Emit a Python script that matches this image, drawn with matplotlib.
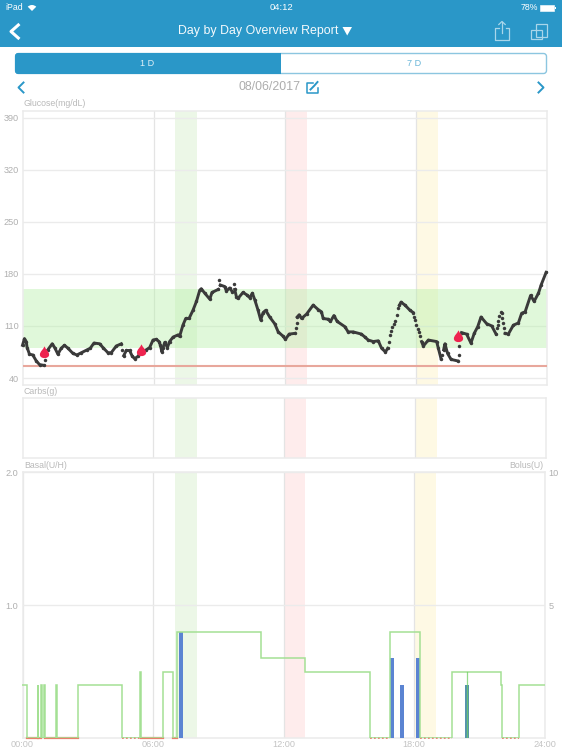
"""Day by Day Overview Report: glucose, carbs, basal and bolus for one day."""
import matplotlib

matplotlib.use("Agg")
import matplotlib.pyplot as plt
import numpy as np
from matplotlib.patches import FancyBboxPatch, Rectangle, Wedge
from matplotlib.path import Path

plt.rcParams["font.family"] = ["Liberation Sans", "DejaVu Sans"]

W, H = 562, 750
BLUE = "#2a97c8"
GRID = "#ebebeb"
TEXT = "#b9b9b9"

hour_ticks = [0, 6, 12, 18, 24]
hour_labels = ["00:00", "06:00", "12:00", "18:00", "24:00"]
glucose_ticks = [40, 110, 180, 250, 320, 390]
basal_ticks = [1.0, 2.0]
bolus_tick_labels = ["5", "10"]

# meal windows: start hour, end hour
band_hours = [(7, 8), (12, 13), (18, 19)]
band_colors = ["#ecf7e7", "#feecec", "#fef9e4"]
target_low, target_high = 80, 160
low_limit = 56

# NaN = sensor readings no longer joined, the single dots stay visible
nan = float("nan")
glucose_hours = [
    0.0, 0.09, 0.17, 0.21, 0.32, 0.47, 0.63, 0.78, 0.98, nan, 1.02, nan, 1.04, nan, 1.16, 1.36, 1.47, 1.62, 1.77,
    1.92, 2.08, 2.31, 2.49, 2.69, 2.95, 3.10, 3.27, 3.53, 3.68, 3.91, 4.06, 4.29, 4.52, nan, 4.57, nan, 4.63, 4.75,
    4.90, 5.01, 5.13, 5.28, 5.41, 5.67, 5.82, 5.97, 6.12, 6.25, 6.31, 6.38, 6.43, 6.51, 6.63, 6.73,
    6.89, 7.12, 7.19, 7.34, 7.47, 7.62, 7.80, 7.96, 8.11, 8.18, 8.34, 8.57, 8.67, 8.95, nan, 8.99, nan, 9.05, 9.25,
    9.33, 9.48, 9.60, nan, 9.67, nan, 9.71, 9.79, 9.86, 10.09, 10.25, 10.40, 10.52, 10.63, 10.78, 10.90, 11.01,
    11.13, 11.31, 11.54, 11.70, 11.93, 12.03, 12.20, 12.46, nan, 12.51, nan, 12.54, nan, 12.57, 12.66, 12.77, 13.00,
    13.30, 13.53, 13.68, 13.76, 13.99, 14.09, 14.25, 14.40, 14.75, 14.90, 15.13, 15.51, 15.67, 15.82, 16.05, 16.28,
    16.43, 16.61, 16.71, nan, 16.77, nan, 16.81, nan, 16.85, nan, 16.92, nan, 16.98, nan, 17.04, nan, 17.12, nan,
    17.19, nan, 17.25, 17.32, 17.50, 17.73, 17.88, nan, 17.93, nan, 17.96, nan, 17.99, nan, 18.08, nan, 18.14, nan,
    18.20, nan, 18.26, 18.34, 18.57, 18.95, 19.03, 19.15, nan, 19.21, nan, 19.27, 19.33, 19.45, 19.61, 19.91, nan,
    19.97, nan, 19.99, nan, 20.09, 20.32, 20.52, 20.67, 20.83, 20.98, 21.24, 21.47, 21.67, nan, 21.71, nan, 21.74,
    nan, 21.77, nan, 21.82, nan, 21.88, nan, 21.93, nan, 21.96, nan, 22.00, nan, 22.05, nan, 22.08, 22.23, 22.46,
    22.69, 22.84, 23.00, 23.25, 23.41, 23.61, 23.73, 23.96,
]
glucose_values = [
    84, 93, 89, 81, 72, 71, 63, 58, 57, nan, 64, nan, 71, nan, 78, 86, 81, 72, 80,
    84, 80, 73, 71, 74, 78, 80, 87, 86, 81, 74, 74, 83, 86, nan, 78, nan, 70, 77,
    77, 70, 66, 69, 75, 78, 81, 91, 92, 89, 84, 75, 81, 88, 81, 89,
    95, 98, 96, 111, 120, 120, 131, 143, 158, 160, 154, 146, 155, 159, nan, 172, nan, 165, 163,
    157, 161, 156, nan, 167, nan, 159, 149, 147, 155, 152, 148, 154, 145, 131, 118, 128,
    131, 122, 113, 102, 96, 92, 99, 100, nan, 107, nan, 114, nan, 122, 125, 120, 126,
    138, 132, 129, 120, 119, 116, 124, 116, 109, 102, 102, 99, 95, 91, 89, 90,
    80, 75, 80, nan, 88, nan, 98, nan, 103, nan, 109, nan, 113, nan, 116, nan, 125, nan,
    134, nan, 138, 142, 138, 131, 128, nan, 122, nan, 118, nan, 111, nan, 106, nan, 102, nan,
    96, nan, 89, 83, 91, 89, 80, 66, nan, 71, nan, 78, 86, 73, 65, 63, nan,
    71, nan, 83, nan, 101, 99, 87, 100, 109, 122, 113, 110, 99, nan, 107, nan, 111,
    nan, 116, nan, 123, nan, 129, nan, 128, nan, 120, nan, 114, nan, 107, nan, 100, 99, 111,
    114, 127, 129, 151, 143, 154, 165, 182,
]
meal_hours = [0.98, 5.41, 19.91]
meal_values = [75, 77, 97]

# basal rate per interval, edges has one more entry than rates
basal_edges = [
    0, 0.22, 0.70, 0.72, 0.87, 0.88, 0.97, 1.03, 1.56, 1.57, 2.57, 4.59, 5.42, 5.44,
    6.47, 6.90, 7.09, 10.98, 13.0, 15.99, 16.87, 18.29, 19.72, 21.98, 22.06, 22.80, 24,
]
basal_rates = [
    0.4, 0, 0.4, 0, 0.4, 0, 0.4, 0, 0.4, 0, 0.4, 0, 0.5,
    0, 0.5, 0, 0.8, 0.6, 0.5, 0, 0.8, 0, 0.5, 0.4, 0, 0.4,
]
suspend_solid = [(0.22, 0.70), (0.72, 0.87), (1.03, 2.57), (5.44, 6.47), (6.90, 7.09)]
suspend_dotted = [(4.59, 5.42), (15.99, 16.87), (18.29, 19.72), (22.06, 22.80)]

bolus_hours = [7.29, 16.99, 17.45, 18.18, 20.42]
bolus_units = [4, 3, 2, 3, 2]
bolus_colors = ["#5b84d2", "#5b84d2", "#5b84d2", "#5b84d2", "#5593ad"]
bolus_spike_hour = 20.42
bolus_spike_rate = 0.5

fig = plt.figure(figsize=(W / 100, H / 100), dpi=100, facecolor="white")


def px_axes(left, top, right, bottom, **kwargs):
    return fig.add_axes([left / W, 1 - bottom / H, (right - left) / W, (bottom - top) / H], **kwargs)


def style_panel(ax):
    ax.set_xlim(0, 24)
    ax.set_xticks([6, 12, 18])
    ax.set_xticklabels([])
    ax.tick_params(length=0)
    ax.grid(axis="x", color="#e4e4e4", linewidth=0.9, zorder=1)
    ax.set_axisbelow(True)
    for spine in ax.spines.values():
        spine.set_color(GRID)
        spine.set_linewidth(1.1)
    for (start, end), color in zip(band_hours, band_colors):
        ax.axvspan(start, end, color=color, linewidth=0, zorder=0)


# 血糖
ax_glucose = px_axes(22.5, 110.5, 547, 385)
style_panel(ax_glucose)
ax_glucose.set_ylim(30.6, 399.6)
ax_glucose.set_yticks(glucose_ticks)
ax_glucose.tick_params(axis="y", labelsize=6.6, labelcolor="#b0b0b0", pad=2.5)
ax_glucose.grid(axis="y", color=GRID, linewidth=1.0, zorder=1)
ax_glucose.axhspan(target_low, target_high, color="#b6f0a8", alpha=0.42, linewidth=0, zorder=2)
ax_glucose.axhline(low_limit, color="#e8a79c", linewidth=1.5, zorder=3)
ax_glucose.plot(glucose_hours, glucose_values, "-o", color="#3a3a3a", linewidth=2.1, markersize=2.5,
                markeredgewidth=0, zorder=4, clip_on=False)
# 水滴形的进餐标记
drop = Path(
    [(0, 1.0), (0.2, 0.5), (0.75, 0.15), (0.75, -0.35), (0.75, -1.1), (-0.75, -1.1), (-0.75, -0.35),
     (-0.75, 0.15), (-0.2, 0.5), (0, 1.0)],
    [Path.MOVETO, Path.CURVE4, Path.CURVE4, Path.CURVE4, Path.CURVE4, Path.CURVE4, Path.CURVE4,
     Path.CURVE4, Path.CURVE4, Path.CURVE4],
)
ax_glucose.scatter(meal_hours, meal_values, marker=drop, s=95, color="#ee2450", linewidth=0, zorder=5)

# 碳水
ax_carbs = px_axes(22.5, 398, 546, 458.5)
style_panel(ax_carbs)
ax_carbs.set_yticks([])

# 基础率 / 大剂量
ax_basal = px_axes(22.5, 472.3, 544.7, 738)
style_panel(ax_basal)
ax_basal.set_ylim(0, 2)
ax_basal.set_yticks(basal_ticks)
ax_basal.set_yticklabels(["1.0", "2.0"])
ax_basal.tick_params(axis="y", labelsize=6.6, labelcolor="#b0b0b0", pad=3)
ax_basal.grid(axis="y", color=GRID, linewidth=1.0, zorder=1)
ax_basal.set_xticks(hour_ticks)
ax_basal.set_xticklabels(hour_labels)
ax_basal.tick_params(axis="x", labelsize=6.6, labelcolor="#c4c4c4", pad=1.5)

ax_bolus = ax_basal.twinx()
ax_bolus.set_ylim(0, 10)
ax_bolus.set_yticks([5, 10])
ax_bolus.set_yticklabels(bolus_tick_labels)
ax_bolus.tick_params(axis="y", length=0, labelsize=6.6, labelcolor="#b0b0b0", pad=2.5)
for spine in ax_bolus.spines.values():
    spine.set_visible(False)
ax_bolus.bar(bolus_hours, bolus_units, width=0.21, color=bolus_colors, linewidth=0, zorder=2)

for start, end in suspend_solid:
    ax_basal.plot([start, end], [0, 0], color="#e8806c", linewidth=1.6, zorder=3, clip_on=False)
for start, end in suspend_dotted:
    ax_basal.plot([start, end], [0, 0], color="#e8806c", linewidth=1.3, linestyle=(0, (1, 1.2)), zorder=3,
                  clip_on=False)
# 基础率线要盖在柱子上面，所以按 U 单位画到 twin 轴
ax_bolus.stairs(np.array(basal_rates) * 5, basal_edges, baseline=None, color="#a4e094", linewidth=1.1, zorder=4)
ax_bolus.plot([bolus_spike_hour, bolus_spike_hour], [0, bolus_spike_rate * 5], color="#6fcf62", linewidth=0.9,
              alpha=0.75, zorder=5)

# 界面外壳，用像素坐标
ui = fig.add_axes([0, 0, 1, 1], zorder=-1)
ui.set_xlim(0, W)
ui.set_ylim(H, 0)
ui.axis("off")
ui.add_patch(Rectangle((0, 0), W, 47, color=BLUE, linewidth=0))

ui.text(5, 8, "iPad", color="white", fontsize=6.3, va="center")
ui.add_patch(Wedge((32, 11), 6, 225, 315, color="white", linewidth=0))
ui.text(282, 8, "04:12", color="white", fontsize=6.8, va="center", ha="center")
ui.text(537.5, 8, "78%", color="white", fontsize=6.3, va="center", ha="right")
ui.add_patch(Rectangle((540, 5), 14, 6, facecolor="white", edgecolor="white", linewidth=0.4))
ui.add_patch(Rectangle((554.5, 6.8), 1, 2.4, color="white", linewidth=0))
ui.text(338, 31, "Day by Day Overview Report", color="white", fontsize=8.9, va="center", ha="right", alpha=0.95)
ui.fill([342.5, 352, 347.2], [27, 27, 35.5], color="white", linewidth=0)
ui.plot([18.3, 11, 18.3], [25, 31.5, 38], color="white", linewidth=2.2)

# 分享和旋转图标
ui.plot([498.5, 495, 495, 509, 509, 505.5], [28, 28, 40, 40, 28, 28], color="#a9d6ea", linewidth=0.9)
ui.plot([502, 502], [21.5, 33], color="#a9d6ea", linewidth=0.9)
ui.plot([498.8, 502, 505.2], [24.5, 21.5, 24.5], color="#a9d6ea", linewidth=0.9)
ui.add_patch(Rectangle((536, 23.5), 11, 13, fill=False, edgecolor="#a9d6ea", linewidth=0.9))
ui.add_patch(Rectangle((531, 30), 11, 9, fill=False, edgecolor="#a9d6ea", linewidth=0.9))

# 1D / 7D 切换
ui.add_patch(FancyBboxPatch((15.5, 53.5), 531, 20, boxstyle="round,pad=0,rounding_size=3", facecolor="white",
                            edgecolor="#8cc6e0", linewidth=1.0))
ui.add_patch(FancyBboxPatch((15, 53), 265.5, 21, boxstyle="round,pad=0,rounding_size=3", facecolor=BLUE,
                            linewidth=0))
ui.add_patch(Rectangle((272, 53), 8.5, 21, color=BLUE, linewidth=0))
ui.text(147, 63.5, "1 D", color="white", fontsize=6.6, ha="center", va="center", alpha=0.85)
ui.text(414, 63.5, "7 D", color="#6ab6d8", fontsize=6.6, ha="center", va="center")

ui.plot([23.5, 18.5, 23.5], [82.5, 87.5, 92.5], color=BLUE, linewidth=1.4)
ui.plot([538.5, 543.5, 538.5], [82.5, 87.5, 92.5], color=BLUE, linewidth=1.4)
ui.text(300.5, 87.5, "08/06/2017", color="#adadad", fontsize=8.9, ha="right", va="center")
ui.plot([313, 306.5, 306.5, 317.5, 317.5], [83, 83, 93, 93, 87.5], color=BLUE, linewidth=1.1)
ui.plot([310.5, 314, 317.5], [89.5, 86, 82], color=BLUE, linewidth=1.4)

ui.text(24, 103, "Glucose(mg/dL)", color=TEXT, fontsize=6.3, va="center")
ui.text(24, 391, "Carbs(g)", color=TEXT, fontsize=6.3, va="center")
ui.text(24, 466, "Basal(U/H)", color=TEXT, fontsize=6.3, va="center")
ui.text(543, 466, "Bolus(U)", color=TEXT, fontsize=6.3, va="center", ha="right")

fig.savefig("out.png", dpi=100)
plt.close(fig)
